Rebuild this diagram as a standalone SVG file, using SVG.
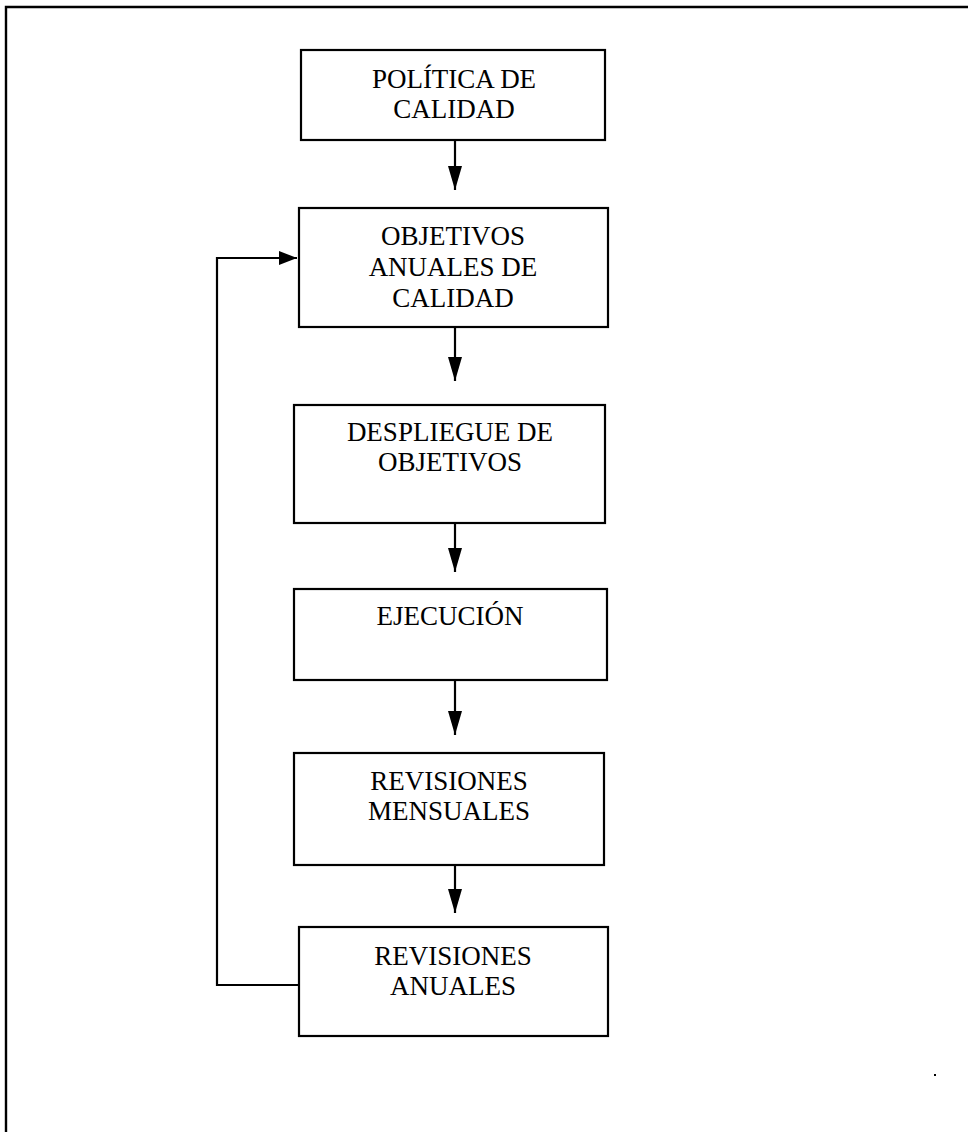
<svg xmlns="http://www.w3.org/2000/svg" width="968" height="1132" viewBox="0 0 968 1132">
<defs>
<style>
.box{fill:#fff;stroke:#000;stroke-width:2.2}
.lbl{font-family:"Liberation Serif","Times New Roman",serif;font-size:27px;fill:#000;text-anchor:middle}
.con{fill:none;stroke:#000;stroke-width:2.2}
.frame{fill:none;stroke:#000;stroke-width:2.4}
</style>
<marker id="ah" markerWidth="24" markerHeight="14" refX="24" refY="7" orient="auto" markerUnits="userSpaceOnUse">
<path d="M0,0 L24,7 L0,14 z" fill="#000"/>
</marker>
<marker id="ahs" markerWidth="18" markerHeight="14" refX="18" refY="7" orient="auto" markerUnits="userSpaceOnUse">
<path d="M0,0 L18,7 L0,14 z" fill="#000"/>
</marker>
</defs>
<rect width="968" height="1132" fill="#fff"/>
<g id="frame">
<path class="frame" d="M6,1132 V7 H968"/>
<rect x="934" y="1074" width="2" height="2" fill="#000"/>
</g>
<g id="connectors">
<line class="con" x1="455" y1="140" x2="455" y2="190" marker-end="url(#ah)"/>
<line class="con" x1="455" y1="327" x2="455" y2="381" marker-end="url(#ah)"/>
<line class="con" x1="455" y1="523" x2="455" y2="572" marker-end="url(#ah)"/>
<line class="con" x1="455" y1="680" x2="455" y2="735" marker-end="url(#ah)"/>
<line class="con" x1="455" y1="865" x2="455" y2="913" marker-end="url(#ah)"/>
<path class="con" d="M299,985 H217 V258 H297" marker-end="url(#ahs)"/>
</g>
<g id="n1">
<rect class="box" x="301" y="50" width="304" height="90"/>
<text class="lbl" x="454" y="88">POLÍTICA DE</text>
<text class="lbl" x="454" y="118">CALIDAD</text>
</g>
<g id="n2">
<rect class="box" x="299" y="208" width="309" height="119"/>
<text class="lbl" x="453" y="245">OBJETIVOS</text>
<text class="lbl" x="453" y="276">ANUALES DE</text>
<text class="lbl" x="453" y="307">CALIDAD</text>
</g>
<g id="n3">
<rect class="box" x="294" y="405" width="311" height="118"/>
<text class="lbl" x="450" y="441">DESPLIEGUE DE</text>
<text class="lbl" x="450" y="471">OBJETIVOS</text>
</g>
<g id="n4">
<rect class="box" x="294" y="589" width="313" height="91"/>
<text class="lbl" x="450" y="625">EJECUCIÓN</text>
</g>
<g id="n5">
<rect class="box" x="294" y="753" width="310" height="112"/>
<text class="lbl" x="449" y="790">REVISIONES</text>
<text class="lbl" x="449" y="820">MENSUALES</text>
</g>
<g id="n6">
<rect class="box" x="299" y="927" width="309" height="109"/>
<text class="lbl" x="453" y="965">REVISIONES</text>
<text class="lbl" x="453" y="995">ANUALES</text>
</g>
</svg>
